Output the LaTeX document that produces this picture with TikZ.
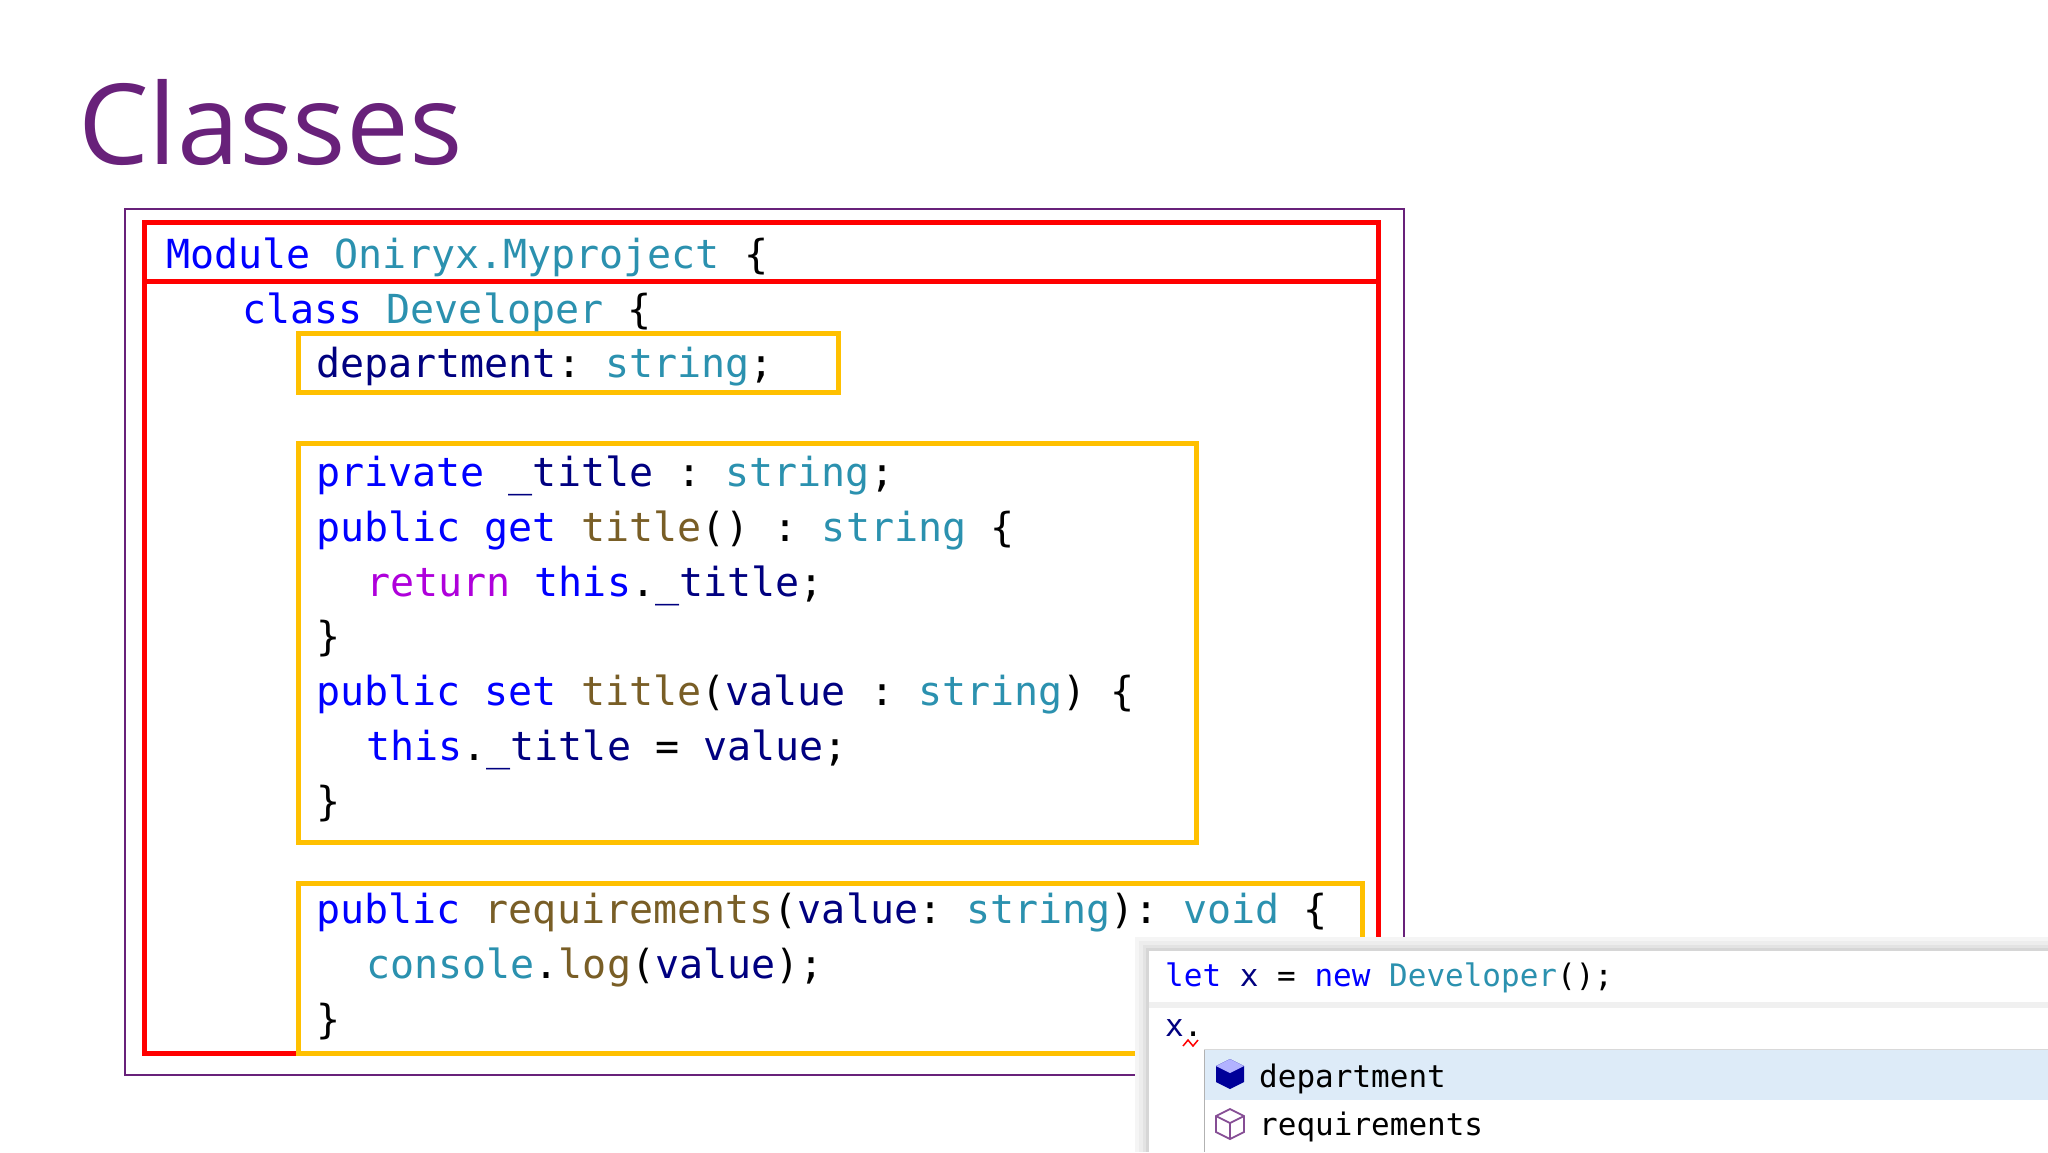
\documentclass[tikz,border=0pt]{standalone}
\usepackage{fontspec}
\setmainfont{Open Sans}
\setmonofont{DejaVu Sans Mono}
\definecolor{kw}{HTML}{0000FF}
\definecolor{ty}{HTML}{2B91AF}
\definecolor{id}{HTML}{000080}
\definecolor{fn}{HTML}{795E26}
\definecolor{rt}{HTML}{AF00DB}
\definecolor{ttl}{HTML}{68217A}
\definecolor{redb}{HTML}{FF0000}
\definecolor{yelb}{HTML}{FFC000}
\definecolor{selb}{HTML}{DDEBF8}
\newcommand{\K}[1]{\textcolor{kw}{#1}}
\newcommand{\T}[1]{\textcolor{ty}{#1}}
\newcommand{\I}[1]{\textcolor{id}{#1}}
\newcommand{\F}[1]{\textcolor{fn}{#1}}
\newcommand{\R}[1]{\textcolor{rt}{#1}}
\tikzset{
 code/.style={anchor=base west,inner sep=0pt,font=\ttfamily\fontsize{40}{40}\selectfont},
 pcode/.style={anchor=base west,inner sep=0pt,font=\ttfamily\fontsize{31}{31}\selectfont},
 redbox/.style={draw=redb,line width=5pt},
 yelbox/.style={draw=yelb,line width=5pt},
}
\begin{document}
\begin{tikzpicture}[x=1pt,y=-1pt]
\useasboundingbox[fill=white] (0,0) rectangle (2048,1152);
\node[anchor=base west,inner sep=0pt,text=ttl,font=\fontsize{112}{112}\selectfont] (title) at (78,164) {Classes};
\draw[ttl,line width=1.5pt] (125,209) rectangle (1404,1075);
\draw[redbox] (144,222) rectangle (1378,1053);
\draw[redbox] (144,281) -- (1378,281);
\draw[yelbox] (298,333) rectangle (838,392);
\draw[yelbox] (298,443) rectangle (1196,842);
\draw[yelbox] (298,883) rectangle (1362,1053);
\node[code] (l1) at (166,268) {\K{Module} \T{Oniryx.Myproject} \{};
\node[code] (l2) at (242,323) {\K{class} \T{Developer} \{};
\node[code] (l3) at (316,377) {\I{department}: \T{string};};
\node[code] (l4) at (316,486) {\K{private} \I{\_title} : \T{string};};
\node[code] (l5) at (316,541) {\K{public} \K{get} \F{title}() : \T{string} \{};
\node[code] (l6) at (366,596) {\R{return} \K{this}.\I{\_title};};
\node[code] (l7) at (316,650) {\}};
\node[code] (l8) at (316,705) {\K{public} \K{set} \F{title}(\I{value} : \T{string}) \{};
\node[code] (l9) at (366,760) {\K{this}.\I{\_title} = \I{value};};
\node[code] (l10) at (316,815) {\}};
\node[code] (l11) at (316,923) {\K{public} \F{requirements}(\I{value}: \T{string}): \T{void} \{};
\node[code] (l12) at (366,978) {\T{console}.\F{log}(\I{value});};
\node[code] (l13) at (316,1033) {\}};
% popup
\foreach \o/\c in {14/black!4,10/black!7,6/black!11,3/black!16}
  \fill[\c] (1149-\o,951-\o) rectangle (2048,1152);
\fill[white] (1149,951) rectangle (2048,1152);
\fill[black!6] (1149,1002) rectangle (2048,1008);
\draw[black!30,line width=1pt] (1204,1049) -- (1204,1152);
\fill[selb] (1205,1049) rectangle (2048,1100);
\draw[black!15] (1204,1049) -- (2048,1049);
\node[pcode] (p1) at (1165,986) {\K{let} \I{x} = \K{new} \T{Developer}();};
\node[pcode] (p2) at (1165,1036) {\I{x}.};
\draw[red,line width=1.5pt] (1183,1046) -- (1188,1040) -- (1193,1046) -- (1198,1040);
\node[pcode,text=black] (d1) at (1259,1087) {department};
\node[pcode,text=black] (d2) at (1259,1135) {requirements};
% icons
\begin{scope}[shift={(1230,1074)}]
 \fill[blue!60!black] (0,-15) -- (14,-8) -- (14,8) -- (0,15) -- (-14,8) -- (-14,-8) -- cycle;
 \fill[white!70!blue] (0,-15) -- (14,-8) -- (0,-1) -- (-14,-8) -- cycle;
\end{scope}
\begin{scope}[shift={(1230,1124)},ttl!80,line width=1.8pt]
 \draw (0,-15) -- (14,-8) -- (14,8) -- (0,15) -- (-14,8) -- (-14,-8) -- cycle;
 \draw (-14,-8) -- (0,-1) -- (14,-8) (0,-1) -- (0,15);
\end{scope}
\end{tikzpicture}
\end{document}
